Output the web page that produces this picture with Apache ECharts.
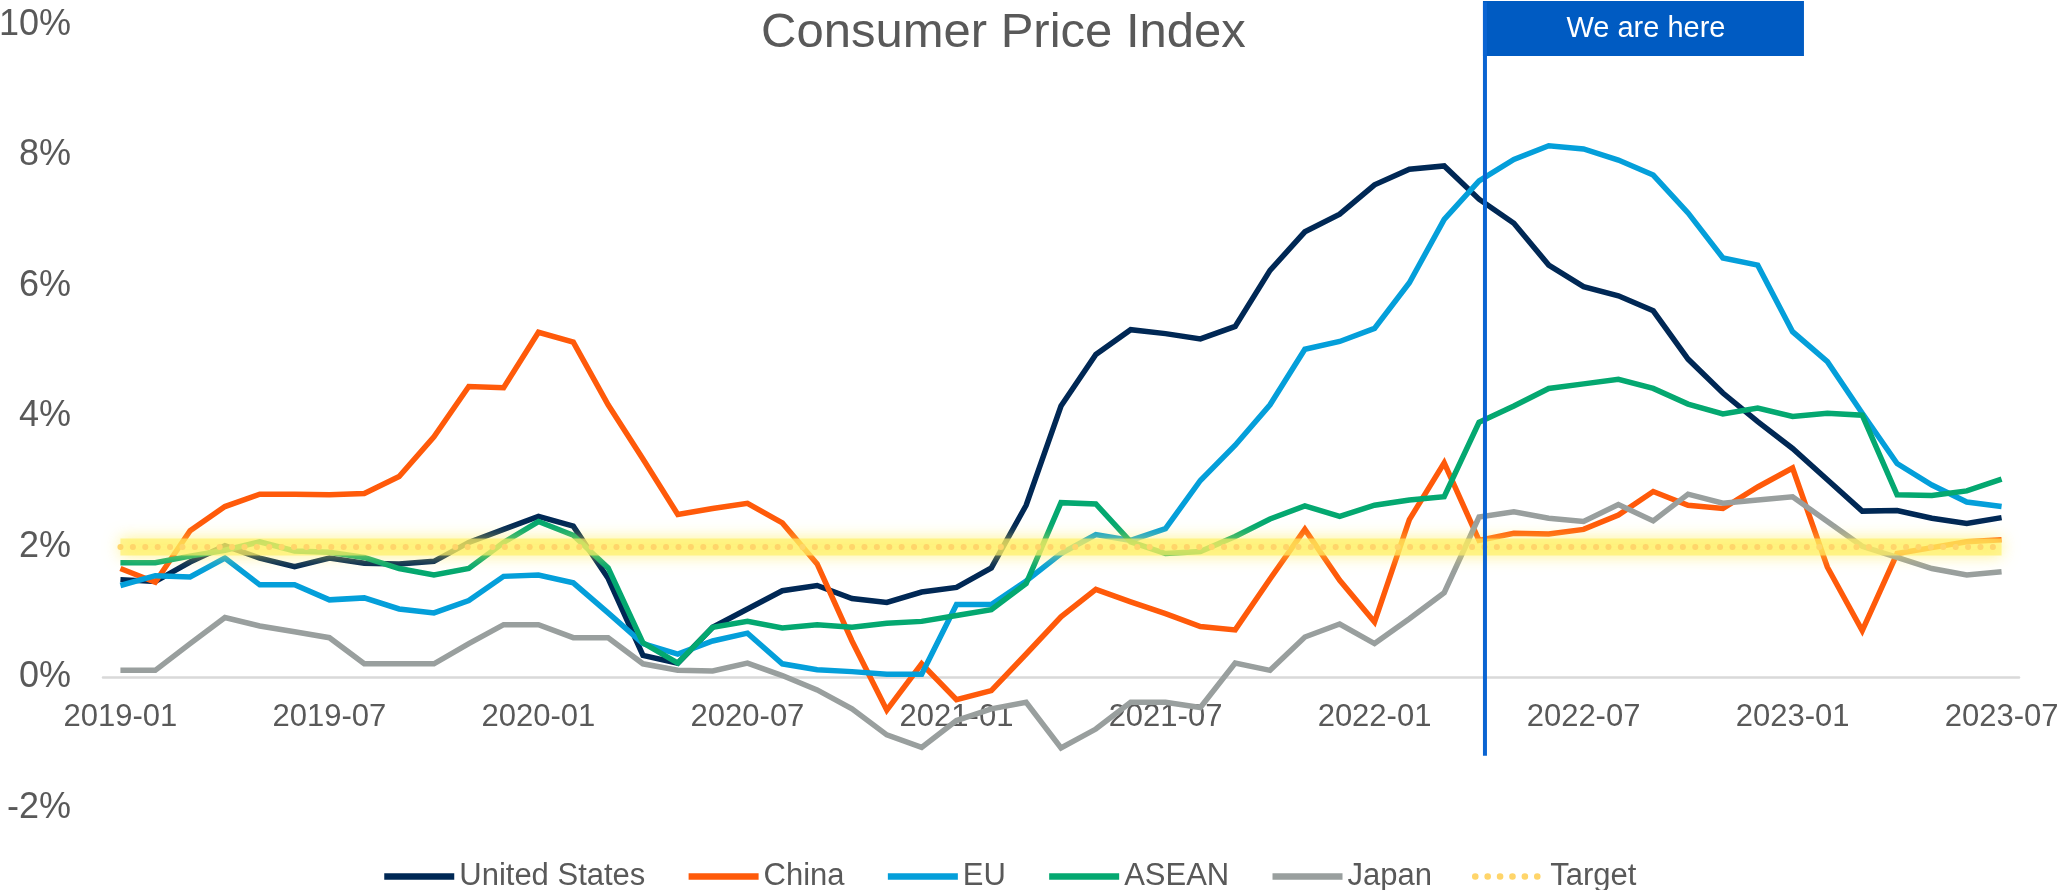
<!DOCTYPE html>
<html>
<head>
<meta charset="utf-8">
<title>Consumer Price Index</title>
<script src="https://cdn.jsdelivr.net/npm/echarts@6/dist/echarts.min.js"></script>
<style>
    html, body { margin: 0; padding: 0; background: #fff; }
    #main { width: 2058px; height: 890px; }
</style>
</head>
<body>
<div id="main"></div>
<script>
// months on the x axis
var months = [
    '2019-01','2019-02','2019-03','2019-04','2019-05','2019-06','2019-07','2019-08','2019-09','2019-10','2019-11','2019-12',
    '2020-01','2020-02','2020-03','2020-04','2020-05','2020-06','2020-07','2020-08','2020-09','2020-10','2020-11','2020-12',
    '2021-01','2021-02','2021-03','2021-04','2021-05','2021-06','2021-07','2021-08','2021-09','2021-10','2021-11','2021-12',
    '2022-01','2022-02','2022-03','2022-04','2022-05','2022-06','2022-07','2022-08','2022-09','2022-10','2022-11','2022-12',
    '2023-01','2023-02','2023-03','2023-04','2023-05','2023-06','2023-07'
];

// CPI, % year on year
var usData = [1.5, 1.47, 1.77, 2.02, 1.83, 1.7, 1.83, 1.75, 1.74, 1.78, 2.07, 2.27,
    2.47, 2.32, 1.52, 0.34, 0.22, 0.77, 1.05, 1.33, 1.41, 1.21, 1.15, 1.31,
    1.38, 1.68, 2.64, 4.16, 4.95, 5.33, 5.27, 5.19, 5.38, 6.24, 6.83, 7.1,
    7.55, 7.79, 7.84, 7.33, 6.96, 6.32, 5.99, 5.85, 5.62, 4.88, 4.36, 3.92,
    3.51, 3.03, 2.55, 2.56, 2.44, 2.36, 2.45];
var chinaData = [1.67, 1.46, 2.25, 2.62, 2.81, 2.81, 2.8, 2.82, 3.08, 3.69, 4.46, 4.44,
    5.29, 5.14, 4.18, 3.35, 2.5, 2.59, 2.67, 2.37, 1.74, 0.56, -0.5, 0.21,
    -0.34, -0.2, 0.36, 0.93, 1.35, 1.16, 0.98, 0.78, 0.73, 1.51, 2.27, 1.49,
    0.85, 2.42, 3.29, 2.1, 2.21, 2.2, 2.27, 2.49, 2.85, 2.64, 2.59, 2.92,
    3.21, 1.69, 0.72, 1.9, 1.99, 2.08, 2.11];
var euData = [1.41, 1.56, 1.54, 1.83, 1.42, 1.42, 1.19, 1.22, 1.05, 0.99, 1.18, 1.55,
    1.57, 1.45, 0.99, 0.52, 0.36, 0.56, 0.68, 0.21, 0.12, 0.09, 0.05, 0.05,
    1.12, 1.12, 1.48, 1.9, 2.19, 2.1, 2.28, 3.02, 3.56, 4.18, 5.03, 5.15,
    5.35, 6.05, 7.02, 7.61, 7.94, 8.15, 8.1, 7.93, 7.7, 7.12, 6.43, 6.32,
    5.3, 4.84, 4.05, 3.28, 2.95, 2.69, 2.62];
var aseanData = [1.76, 1.76, 1.86, 1.95, 2.08, 1.94, 1.92, 1.84, 1.67, 1.57, 1.67, 2.07,
    2.39, 2.18, 1.68, 0.53, 0.22, 0.77, 0.86, 0.76, 0.81, 0.77, 0.83, 0.86,
    0.95, 1.04, 1.44, 2.68, 2.66, 2.08, 1.9, 1.93, 2.16, 2.43, 2.63, 2.47,
    2.64, 2.72, 2.77, 3.91, 4.16, 4.43, 4.5, 4.57, 4.43, 4.19, 4.04, 4.13,
    4.0, 4.05, 4.02, 2.8, 2.79, 2.86, 3.04];
var japanData = [0.11, 0.11, 0.52, 0.92, 0.79, 0.7, 0.61, 0.21, 0.21, 0.21, 0.52, 0.81,
    0.81, 0.61, 0.61, 0.21, 0.11, 0.1, 0.22, 0.03, -0.19, -0.48, -0.88, -1.07,
    -0.66, -0.48, -0.38, -1.08, -0.79, -0.38, -0.38, -0.46, 0.22, 0.11, 0.62, 0.82,
    0.52, 0.9, 1.3, 2.46, 2.54, 2.44, 2.39, 2.65, 2.4, 2.81, 2.67, 2.72,
    2.77, 2.39, 2.01, 1.84, 1.67, 1.57, 1.62];
var targetData = [2, 2, 2, 2, 2, 2, 2, 2, 2, 2, 2, 2, 2, 2, 2, 2, 2, 2, 2, 2, 2, 2, 2, 2, 2, 2, 2, 2,
    2, 2, 2, 2, 2, 2, 2, 2, 2, 2, 2, 2, 2, 2, 2, 2, 2, 2, 2, 2, 2, 2, 2, 2, 2, 2, 2];

var yTicks = [-2, 0, 2, 4, 6, 8, 10];

// "We are here" marker, in month index units
var herePosition = 39.17;
var hereLabel = 'We are here';

var textColor = '#595959';
var fontName = '"Liberation Sans", Arial, sans-serif';

var myChart = echarts.init(document.getElementById('main'));

function lineSeries(name, data, color) {
    return {
        name: name,
        type: 'line',
        data: data,
        showSymbol: false,
        symbol: 'none',
        silent: true,
        lineStyle: { color: color, width: 5.5, join: 'miter' },
        itemStyle: { color: color }
    };
}

var gridBottom = 82;

myChart.setOption({
    animation: false,
    title: {
        text: 'Consumer Price Index',
        left: 756,
        top: 4,
        textStyle: { color: textColor, fontSize: 49, fontWeight: 'normal', fontFamily: fontName }
    },
    legend: {
        data: ['United States', 'China', 'EU', 'ASEAN', 'Japan', 'Target'],
        left: 376,
        top: 856,
        itemWidth: 70,
        itemHeight: 14,
        itemGap: 40,
        itemStyle: { opacity: 0 },
        lineStyle: { width: 6.5 },
        textStyle: { color: textColor, fontSize: 31, fontFamily: fontName }
    },
    grid: { left: 103, right: 39, top: 25, bottom: gridBottom, outerBoundsMode: 'none', containLabel: false },
    xAxis: [{
        type: 'category',
        data: months,
        boundaryGap: true,
        // put the axis (line and labels) on the 0% level
        offset: -(890 - 25 - gridBottom) * (0 - yTicks[0]) / (yTicks[yTicks.length - 1] - yTicks[0]),
        axisLine: { onZero: false, lineStyle: { color: '#D9D9D9', width: 2.5 } },
        axisTick: { show: false },
        axisLabel: {
            interval: 5,
            margin: 24,
            color: textColor,
            fontSize: 31,
            fontFamily: fontName
        },
        splitLine: { show: false }
    }, {
        // hidden helper axis for placing the marker between months
        type: 'value',
        min: -0.5,
        max: months.length - 0.5,
        show: false
    }],
    yAxis: {
        type: 'value',
        min: yTicks[0],
        max: yTicks[yTicks.length - 1],
        interval: 2,
        axisLine: { show: false },
        axisTick: { show: false },
        splitLine: { show: false },
        axisLabel: {
            margin: 32,
            color: textColor,
            fontSize: 36,
            fontFamily: fontName,
            formatter: '{value}%'
        }
    },
    series: [
        lineSeries('United States', usData, '#002855'),
        lineSeries('China', chinaData, '#FF5A0A'),
        lineSeries('EU', euData, '#049FDA'),
        lineSeries('ASEAN', aseanData, '#04A870'),
        lineSeries('Japan', japanData, '#999F9E'),
        {
            // soft yellow glow around the target dots
            name: 'Target glow',
            type: 'line',
            data: targetData,
            symbol: 'none',
            silent: true,
            z: 3,
            lineStyle: {
                color: 'rgba(255, 240, 100, 0.65)',
                width: 17,
                shadowColor: 'rgba(255, 236, 80, 1)',
                shadowBlur: 16
            }
        },
        {
            name: 'Target',
            type: 'line',
            data: targetData,
            symbol: 'none',
            silent: true,
            z: 4,
            lineStyle: { color: '#FFD56A', width: 6, type: [0.1, 12.3], cap: 'round' },
            itemStyle: { color: '#FFD56A' }
        }
    ]
});

// vertical marker with the "We are here" flag
var hereX = myChart.convertToPixel({ xAxisIndex: 1 }, herePosition);
var lineTop = myChart.convertToPixel({ yAxisIndex: 0 }, 10.35);
var lineBottom = myChart.convertToPixel({ yAxisIndex: 0 }, -1.2);

myChart.setOption({
    graphic: [{
        type: 'rect',
        shape: { x: hereX - 2, y: 1, width: 321, height: 55 },
        style: { fill: '#005BC2' },
        z: 10
    }, {
        type: 'line',
        shape: { x1: hereX, y1: lineTop, x2: hereX, y2: lineBottom },
        style: { stroke: '#0A64D2', lineWidth: 4 },
        z: 11
    }, {
        type: 'text',
        x: hereX + 161,
        y: 29,
        style: {
            text: hereLabel,
            fill: '#fff',
            fontSize: 29,
            fontFamily: fontName,
            align: 'center',
            verticalAlign: 'middle'
        },
        z: 12
    }]
});
</script>
</body>
</html>
